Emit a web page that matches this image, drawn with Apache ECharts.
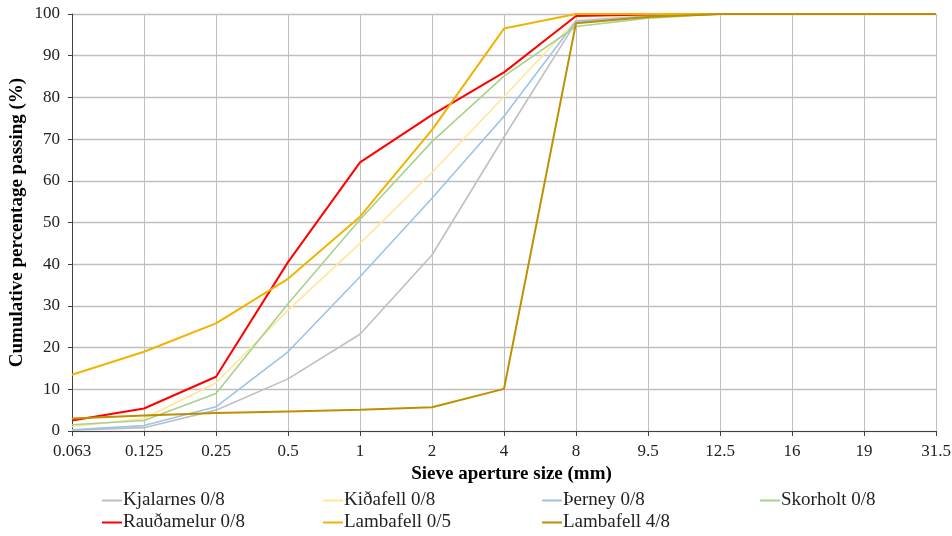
<!DOCTYPE html>
<html>
<head>
<meta charset="utf-8">
<script src="https://cdn.jsdelivr.net/npm/echarts@6/dist/echarts.min.js"></script>
<style>html,body{margin:0;padding:0;background:#fff}#c{width:952px;height:536px}</style>
</head>
<body>
<div id="c"></div>
<script>
const sieveSizes = ['0.063','0.125','0.25','0.5','1','2','4','8','9.5','12.5','16','19','31.5'];
const seriesNames = ['Kjalarnes 0/8','Kiðafell 0/8','Þerney 0/8','Skorholt 0/8','Rauðamelur 0/8','Lambafell 0/5','Lambafell 4/8'];
const kjalarnes  = [0.2, 0.8, 5.0, 12.5, 23.2, 42.2, 70.5, 98.0, 99.5, 100, 100, 100, 100];
const kidafell   = [1.0, 3.0, 11.5, 29.0, 45.0, 62.0, 80.2, 98.5, 99.7, 100, 100, 100, 100];
const therney    = [0.3, 1.3, 5.8, 19.0, 37.0, 55.8, 75.5, 98.3, 99.5, 100, 100, 100, 100];
const skorholt   = [1.5, 2.5, 9.0, 30.5, 50.7, 69.4, 85.1, 97.0, 99.0, 100, 100, 100, 100];
const raudamelur = [2.5, 5.4, 13.0, 40.5, 64.4, 75.8, 86.0, 99.5, 99.9, 100, 100, 100, 100];
const lamb05     = [13.5, 19.0, 25.8, 36.5, 51.4, 72.2, 96.5, 100, 100, 100, 100, 100, 100];
const lamb48     = [3.0, 3.7, 4.3, 4.7, 5.1, 5.7, 10.1, 97.8, 99.3, 100, 100, 100, 100];
const yTicks = [0,10,20,30,40,50,60,70,80,90,100];

const allData = [kjalarnes, kidafell, therney, skorholt, raudamelur, lamb05, lamb48];
const colors = ['#bfbfbf','#ffe699','#9dc3e6','#a9d18e','#ff0000','#f0b400','#bf8f00'];
const widths = [1.6,1.6,1.6,1.6,2,2,2];

const font = '"Liberation Serif","Times New Roman",serif';
const legendPos = [
  [102,491],[323,491],[542,491],[760,491],
  [102,513],[323,513],[542,513]
];

const chart = echarts.init(document.getElementById('c'), null, {renderer:'canvas'});
chart.setOption({
  animation:false,
  backgroundColor:'#fff',
  grid:{left:72,right:16,top:14,bottom:105,containLabel:false,outerBoundsMode:'none'},
  xAxis:{
    type:'category', data:sieveSizes, boundaryGap:false,
    name:'Sieve aperture size (mm)', nameLocation:'middle', nameGap:32,
    nameTextStyle:{fontFamily:font,fontSize:19,fontWeight:'bold',color:'#000',padding:[0,0,0,15]},
    axisLine:{lineStyle:{color:'#404040',width:1.2}},
    axisTick:{show:true,length:5,lineStyle:{color:'#404040'}},
    axisLabel:{fontFamily:font,fontSize:17,color:'#222',margin:12,interval:0},
    splitLine:{show:true,lineStyle:{color:'#bfbfbf',width:1}}
  },
  yAxis:{
    type:'value', min:0, max:100, interval:10,
    name:'Cumulative percentage passing (%)', nameLocation:'middle', nameGap:45,
    nameMoveOverlap:false,
    nameTextStyle:{fontFamily:font,fontSize:19,fontWeight:'bold',color:'#000'},
    axisLine:{show:true,lineStyle:{color:'#404040',width:1}},
    axisTick:{show:true,length:4,lineStyle:{color:'#404040'}},
    axisLabel:{fontFamily:font,fontSize:17,color:'#222',margin:12,
      formatter:function(v){return yTicks.indexOf(v)>=0?String(v):'';}},
    splitLine:{show:true,lineStyle:{color:'#bfbfbf',width:1.4}}
  },
  legend: seriesNames.map(function(n,i){
    return {
      data:[n], left:legendPos[i][0], top:legendPos[i][1],
      icon:'rect', itemWidth:20, itemHeight:2, itemGap:0,
      textStyle:{fontFamily:font,fontSize:19,color:'#222',padding:[0,0,0,-4]},
      padding:0
    };
  }),
  series: seriesNames.map(function(n,i){
    return {
      name:n, type:'line', data:allData[i], showSymbol:false, symbol:'none',
      lineStyle:{color:colors[i],width:widths[i]}, itemStyle:{color:colors[i]},
      z: 2+i
    };
  })
});
</script>
</body>
</html>
